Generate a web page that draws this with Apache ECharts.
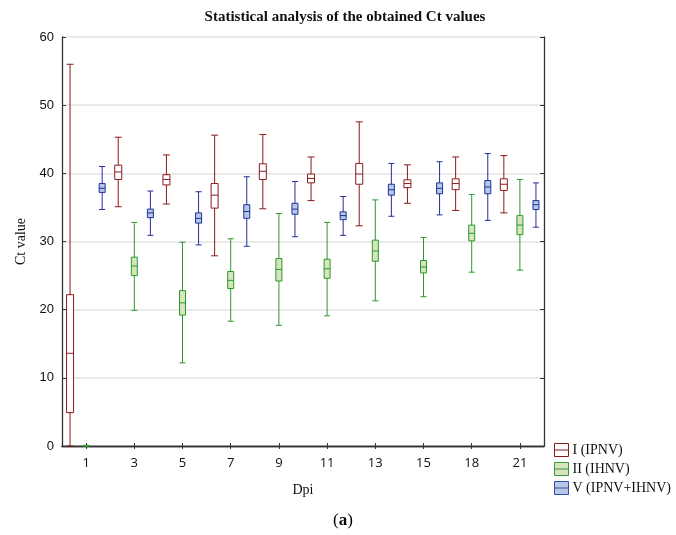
<!DOCTYPE html>
<html>
<head>
<meta charset="utf-8">
<script src="https://cdn.jsdelivr.net/npm/echarts@6/dist/echarts.min.js"></script>
<style>html,body{margin:0;padding:0;background:#fff;}#c{width:676px;height:535px;}</style>
</head>
<body>
<div id="c"></div>
<script>
const days = ['1','3','5','7','9','11','13','15','18','21'];
const yTicks = [0, 10, 20, 30, 40, 50, 60];
const seriesNames = ['I (IPNV)', 'II (IHNV)', 'V (IPNV+IHNV)'];
// [min, Q1, median, Q3, max]
const ipnv = [[0,4.9,13.6,22.2,56.0],[35.1,39.1,40.2,41.2,45.3],[35.5,38.3,39.1,39.8,42.7],[27.9,34.9,36.8,38.5,45.6],[34.8,39.1,40.3,41.4,45.7],[36.0,38.6,39.25,39.9,42.4],[32.3,38.4,39.9,41.45,47.55],[35.6,37.9,38.5,39.05,41.25],[34.55,37.6,38.5,39.2,42.4],[34.2,37.5,38.4,39.2,42.6]];
const ihnv = [[0,0,0,0,0.1],[19.9,25.0,26.4,27.7,32.8],[12.2,19.2,21.0,22.8,29.9],[18.3,23.1,24.3,25.6,30.4],[17.7,24.2,25.9,27.5,34.1],[19.1,24.6,26.0,27.4,32.8],[21.3,27.1,28.6,30.2,36.1],[21.9,25.4,26.25,27.2,30.6],[25.5,30.1,31.2,32.4,36.9],[25.8,31.0,32.4,33.8,39.1]];
const mixed = [[34.7,37.2,37.8,38.5,41.0],[30.9,33.5,34.2,34.75,37.4],[29.5,32.7,33.4,34.2,37.3],[29.3,33.4,34.4,35.4,39.5],[30.7,34.0,34.75,35.6,38.8],[30.9,33.2,33.8,34.35,36.6],[33.7,36.8,37.6,38.4,41.45],[33.9,37.0,37.8,38.6,41.7],[33.1,37.0,38.0,38.95,42.9],[32.1,34.7,35.4,36.0,38.6]];

const groups = ['I', 'II', 'V'];
const slots = [];
days.forEach(d => groups.forEach(g => slots.push(d + '|' + g)));
const empty = ['-','-','-','-','-'];
function spread(arr, k) {
  const out = [];
  days.forEach((d, i) => groups.forEach((g, j) => out.push(j === k ? arr[i] : empty)));
  return out;
}
const showIdx = (i) => i % 3 === 1;

const styles = [
  {color: '#ffffff', borderColor: '#8b1a1a', w: 7},
  {color: '#d7e4bd', borderColor: '#2a9a2a', w: 6},
  {color: '#b5c9e5', borderColor: '#22309a', w: 6}
];
const legendLines = ['#8b1a1a', '#3a9a3a', '#3a4aa8'];

const chart = echarts.init(document.getElementById('c'), null, {renderer: 'canvas'});
const axisLineStyle = {color: '#333', width: 1.3};
chart.setOption({
  animation: false,
  grid: {left: 62, right: 132, top: 37, bottom: 89, containLabel: false},
  xAxis: [
    {type: 'category', data: slots, position: 'bottom', boundaryGap: true,
     name: 'Dpi', nameLocation: 'middle', nameGap: 37,
     nameTextStyle: {fontFamily: 'Liberation Serif', fontSize: 14, color: '#111'},
     axisLine: {show: true, lineStyle: axisLineStyle},
     axisTick: {show: true, inside: true, length: 3, alignWithLabel: true, interval: showIdx, lineStyle: {color: '#333'}},
     axisLabel: {interval: showIdx, formatter: v => v.split('|')[0], fontFamily: 'Open Sans', fontSize: 13, color: '#111', margin: 11},
     splitLine: {show: false}},
    {type: 'category', data: slots, position: 'top', boundaryGap: true,
     axisLine: {show: true, lineStyle: axisLineStyle},
     axisTick: {show: true, inside: true, length: 3, alignWithLabel: true, interval: showIdx, lineStyle: {color: '#333'}},
     axisLabel: {show: false}, splitLine: {show: false}},
    {type: 'category', data: slots, show: false, boundaryGap: true}
  ],
  yAxis: [
    {type: 'value', min: 0, max: 60, interval: 10, position: 'left',
     name: 'Ct value', nameLocation: 'middle', nameGap: 33, nameRotate: 90,
     nameTextStyle: {fontFamily: 'Liberation Serif', fontSize: 14, color: '#111'},
     axisLine: {show: true, lineStyle: axisLineStyle},
     axisTick: {show: true, inside: true, length: 4, lineStyle: {color: '#333'}},
     axisLabel: {fontFamily: 'Liberation Sans', fontSize: 13, color: '#111', margin: 8,
                 formatter: v => yTicks.includes(v) ? String(v) : ''},
     splitLine: {show: true, lineStyle: {color: '#e3e3e3', width: 1.5}}},
    {type: 'value', min: 0, max: 60, interval: 10, position: 'right',
     axisLine: {show: true, lineStyle: axisLineStyle},
     axisTick: {show: true, inside: true, length: 4, lineStyle: {color: '#333'}},
     axisLabel: {show: false}, splitLine: {show: false}}
  ],
  legend: {
    orient: 'vertical', left: 549, top: 438, itemWidth: 14, itemHeight: 13, itemGap: 5,
    textStyle: {fontFamily: 'Liberation Serif', fontSize: 14, color: '#111', padding: [0, 0, 0, -1]},
    data: seriesNames.map((n, i) => ({
      name: n,
      icon: 'path://M0,0L14,0L14,13L0,13Z M0,6.5L14,6.5',
      itemStyle: {color: styles[i].color, borderColor: legendLines[i], borderWidth: 1}
    }))
  },
  series: [ipnv, ihnv, mixed].map((arr, k) => ({
    type: 'boxplot', name: seriesNames[k], xAxisIndex: k, yAxisIndex: 0,
    boxWidth: [styles[k].w, styles[k].w],
    itemStyle: {color: styles[k].color, borderColor: styles[k].borderColor, borderWidth: 1},
    data: spread(arr, k)
  })),
  graphic: [
    {type: 'text', x: 345, y: 17,
     style: {text: 'Statistical analysis of the obtained Ct values', textAlign: 'center', textVerticalAlign: 'middle',
             font: 'bold 15px "Liberation Serif"', fill: '#111'}},
    {type: 'text', x: 343, y: 521,
     style: {text: '{n|(}{b|a}{n|)}', textAlign: 'center', textVerticalAlign: 'middle',
             rich: {n: {fontFamily: 'Liberation Serif', fontSize: 17, color: '#111'},
                    b: {fontFamily: 'Liberation Serif', fontSize: 17, fontWeight: 'bold', color: '#111'}}}}
  ]
});
</script>
</body>
</html>
